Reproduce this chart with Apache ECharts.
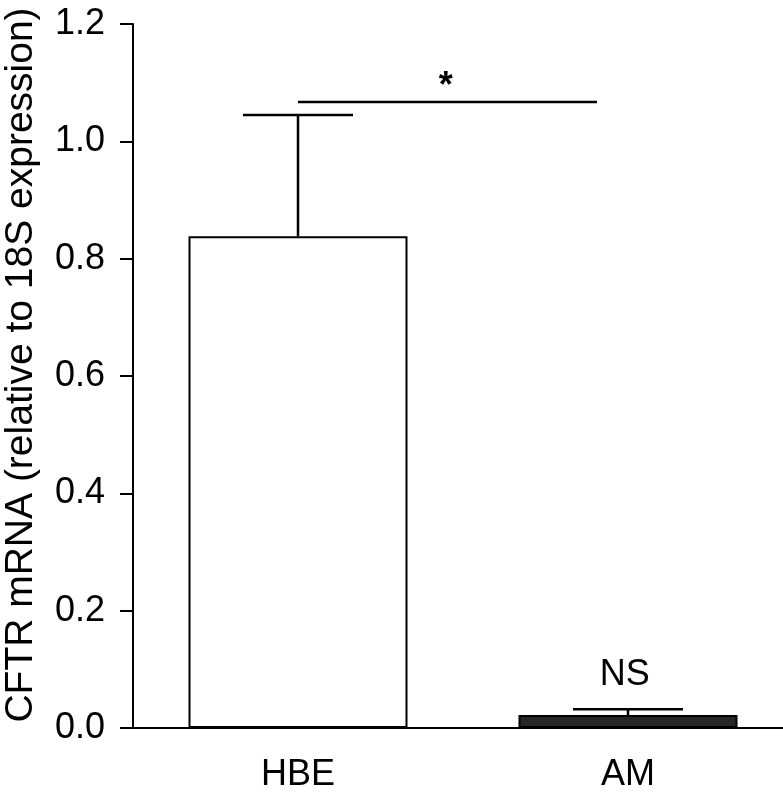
<!DOCTYPE html>
<html>
<head>
<meta charset="UTF-8"/>
<title>CFTR mRNA</title>
<script src="https://cdn.jsdelivr.net/npm/echarts@6/dist/echarts.min.js"></script>
<style>
html, body { margin: 0; padding: 0; background: #fff; }
#chart { width: 783px; height: 797px; }
</style>
</head>
<body>
<div id="chart"></div>
<script>
// data
var categories = ['HBE', 'AM'];
var means = [0.838, 0.022];
var sems = [0.207, 0.010];
var barColors = ['#ffffff', '#262626'];
var yTicks = [0, 0.2, 0.4, 0.6, 0.8, 1.0, 1.2];
// significance bracket: start x, end x (category units), height
var sigLine = [0, 0.906, 1.067];
var sigText = ['*', 0.448, 1.093];
var nsText = ['NS', 0.99, 0.09];

var FONT = 'Liberation Sans, Arial, sans-serif';
var chart = echarts.init(document.getElementById('chart'));

var option = {
  animation: false,
  grid: { left: 133, width: 660, top: 24, bottom: 69, outerBoundsMode: 'none', containLabel: false },
  xAxis: [{
    type: 'category',
    data: categories,
    axisLine: { lineStyle: { color: '#000', width: 2 } },
    axisTick: { alignWithLabel: true, length: 14, lineStyle: { color: '#000', width: 2 } },
    axisLabel: { color: '#000', fontSize: 36, fontFamily: FONT, margin: 29 }
  }, {
    type: 'value', min: -0.5, max: 1.5, show: false
  }],
  yAxis: {
    type: 'value',
    min: yTicks[0],
    max: yTicks[yTicks.length - 1],
    interval: 0.2,
    name: 'CFTR mRNA (relative to 18S expression)',
    nameLocation: 'middle',
    nameGap: 92,
    nameTextStyle: { color: '#000', fontSize: 39, fontFamily: FONT, padding: [0, 0, 0, 22] },
    axisLine: { show: true, onZero: false, lineStyle: { color: '#000', width: 2 } },
    axisTick: { show: true, length: 13, lineStyle: { color: '#000', width: 2 } },
    axisLabel: { color: '#000', fontSize: 36, fontFamily: FONT, margin: 28,
      formatter: function (v) { return v.toFixed(1); } },
    splitLine: { show: false }
  },
  series: [{
    type: 'bar',
    barWidth: 219,
    data: means.map(function (m, i) {
      return { value: m, itemStyle: { color: barColors[i], borderColor: '#000', borderWidth: 2 } };
    }),
    z: 2
  }, {
    // error bars (upper only)
    type: 'custom',
    data: means.map(function (m, i) { return [i, m, m + sems[i]]; }),
    renderItem: function (params, api) {
      var lo = api.coord([api.value(0), api.value(1)]);
      var hi = api.coord([api.value(0), api.value(2)]);
      var half = 55;
      var st = { stroke: '#000', lineWidth: 2.5 };
      return {
        type: 'group',
        children: [
          { type: 'line', shape: { x1: lo[0], y1: lo[1], x2: hi[0], y2: hi[1] }, style: st },
          { type: 'line', shape: { x1: hi[0] - half, y1: hi[1], x2: hi[0] + half, y2: hi[1] }, style: st }
        ]
      };
    },
    z: 3
  }, {
    // significance bracket and labels
    type: 'custom',
    xAxisIndex: 1,
    data: [sigLine],
    renderItem: function (params, api) {
      var a = api.coord([api.value(0), api.value(2)]);
      var b = api.coord([api.value(1), api.value(2)]);
      var s = api.coord([sigText[1], sigText[2]]);
      var n = api.coord([nsText[1], nsText[2]]);
      return {
        type: 'group',
        children: [
          { type: 'line', shape: { x1: a[0], y1: a[1], x2: b[0], y2: b[1] }, style: { stroke: '#000', lineWidth: 2.5 } },
          { type: 'text', x: s[0], y: s[1], style: { text: sigText[0], fill: '#000', font: 'bold 36px ' + FONT, align: 'center', verticalAlign: 'middle' } },
          { type: 'text', x: n[0], y: n[1], style: { text: nsText[0], fill: '#000', font: '36px ' + FONT, align: 'center', verticalAlign: 'middle' } }
        ]
      };
    },
    z: 3
  }]
};
chart.setOption(option);
</script>
</body>
</html>
